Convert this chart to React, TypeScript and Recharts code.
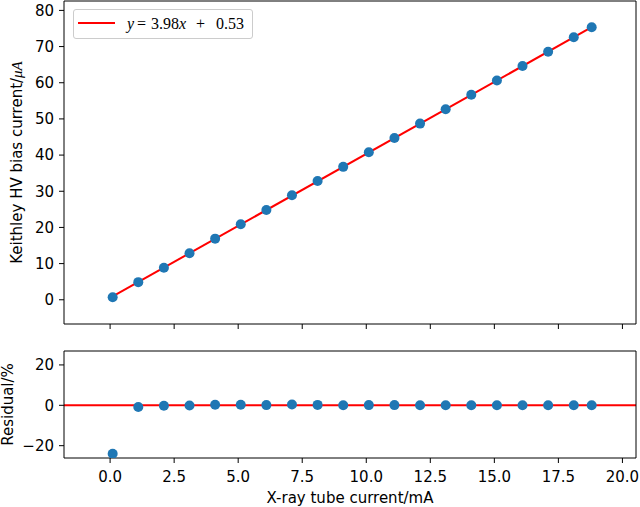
import React from 'react';
import { ComposedChart, Scatter, Line, XAxis, YAxis, ReferenceLine, Legend } from 'recharts';

const tubeCurrent = [0.1, 1.1, 2.1, 3.1, 4.1, 5.1, 6.1, 7.1, 8.1, 9.1, 10.1, 11.1, 12.1, 13.1, 14.1, 15.1, 16.1, 17.1, 18.1, 18.8];
const biasCurrent = [0.7, 4.87, 8.87, 12.86, 16.9, 20.89, 24.83, 28.9, 32.83, 36.75, 40.76, 44.73, 48.7, 52.68, 56.66, 60.64, 64.61, 68.59, 72.57, 75.35];
const residualPct = [-24.0, -0.8, -0.2, -0.1, 0.3, 0.3, 0.1, 0.4, 0.2, 0.0, 0.1, 0.1, 0.0, 0.0, 0.0, 0.0, 0.0, 0.0, 0.0, 0.0];
const fitX = [0.1, 18.8];
const fitY = [0.93, 75.35];
const xTicks = [0, 2.5, 5, 7.5, 10, 12.5, 15, 17.5, 20];
const topYTicks = [0, 10, 20, 30, 40, 50, 60, 70, 80];
const residYTicks = [-20, 0, 20];

const topRows = tubeCurrent.map((x, i) => ({ x, y: biasCurrent[i] }));
const residRows = tubeCurrent.map((x, i) => ({ x, y: residualPct[i] }));
const fitRows = fitX.map((x, i) => ({ x, y: fitY[i] }));

const X_DOMAIN: [number, number] = [-1.8, 20.53];
const TOP_DOMAIN: [number, number] = [-6.7, 82.6];
const RES_DOMAIN: [number, number] = [-26.1, 26.9];

const BLUE = '#1f77b4';
const RED = '#ff0000';
const FONT = 'DejaVu Sans, sans-serif';
const MATH = 'Liberation Serif, DejaVu Serif, serif';
const tickStyle = { fontFamily: FONT, fontSize: 15, fill: '#000' };
const minus = (v: number) => String(v).replace('-', '\u2212');
const fmtX = (v: number) => v.toFixed(1);

const Dot = (p: any) => <circle cx={p.cx} cy={p.cy} r={5} fill={BLUE} />;

const TopYLabel = () => (
  <text transform="translate(22,162.5) rotate(-90)" textAnchor="middle" fontFamily={FONT} fontSize={15} fill="#000">
    Keithley HV bias current/
    <tspan fontFamily={MATH} fontStyle="italic">μA</tspan>
  </text>
);

const ResYLabel = () => (
  <text transform="translate(13,64.5) rotate(-90)" textAnchor="middle" fontFamily={FONT} fontSize={15} fill="#000">
    Residual/%
  </text>
);

const XLabel = () => (
  <text x={350} y={163} textAnchor="middle" fontFamily={FONT} fontSize={15} fill="#000">
    X-ray tube current/mA
  </text>
);

const FitLegend = () => (
  <div
    style={{
      width: 180,
      height: 30,
      boxSizing: 'border-box',
      border: '1px solid #cccccc',
      borderRadius: 3,
      background: 'rgba(255,255,255,0.8)',
    }}
  >
    <svg width={178} height={28} style={{ display: 'block' }}>
      <line x1={4} x2={41} y1={13} y2={13} stroke={RED} strokeWidth={2} />
      <text y={19} fontFamily={MATH} fontSize={16} fill="#000">
        <tspan x={53} fontStyle="italic">y</tspan>
        <tspan x={63}>=</tspan>
        <tspan x={77}>3.98</tspan>
        <tspan x={105} fontStyle="italic">x</tspan>
        <tspan x={122}>+</tspan>
        <tspan x={142}>0.53</tspan>
      </text>
    </svg>
  </div>
);

export default function App() {
  return (
    <div style={{ position: 'absolute', left: 0, top: 0, width: 640, height: 507, background: '#fff' }}>
      <div style={{ position: 'absolute', left: 0, top: 0 }}>
        <ComposedChart width={640} height={340} data={topRows} margin={{ top: 0, right: 3, left: 0, bottom: 0 }}>
          <XAxis
            dataKey="x"
            type="number"
            domain={X_DOMAIN}
            ticks={xTicks}
            allowDataOverflow
            height={16}
            tickSize={5}
            tickFormatter={() => ''}
            stroke="#000"
            tick={tickStyle}
          />
          <XAxis xAxisId="top" orientation="top" type="number" dataKey="x" domain={X_DOMAIN} allowDataOverflow height={1} tick={false} tickLine={false} stroke="#000" />
          <YAxis
            type="number"
            domain={TOP_DOMAIN}
            ticks={topYTicks}
            allowDataOverflow
            width={64}
            tickSize={5}
            tickMargin={5}
            stroke="#000"
            tick={tickStyle}
            tickFormatter={minus}
            label={<TopYLabel />}
          />
          <YAxis yAxisId="right" orientation="right" type="number" domain={TOP_DOMAIN} allowDataOverflow width={1} tick={false} tickLine={false} stroke="#000" />
          <Scatter dataKey="y" shape={Dot} isAnimationActive={false} />
          <Line data={fitRows} dataKey="y" stroke={RED} strokeWidth={2} dot={false} activeDot={false} isAnimationActive={false} />
          <Legend
            layout="horizontal"
            verticalAlign="middle"
            align="center"
            content={() => <FitLegend />}
            wrapperStyle={{ position: 'absolute', left: 73, top: 9, width: 180, height: 30 }}
          />
        </ComposedChart>
      </div>
      <div style={{ position: 'absolute', left: 0, top: 340 }}>
        <ComposedChart width={640} height={167} data={residRows} margin={{ top: 10, right: 3, left: 0, bottom: 0 }}>
          <XAxis
            dataKey="x"
            type="number"
            domain={X_DOMAIN}
            ticks={xTicks}
            allowDataOverflow
            height={49}
            tickSize={5}
            tickMargin={8}
            stroke="#000"
            tick={tickStyle}
            tickFormatter={fmtX}
            label={<XLabel />}
          />
          <XAxis xAxisId="top" orientation="top" type="number" dataKey="x" domain={X_DOMAIN} allowDataOverflow height={1} tick={false} tickLine={false} stroke="#000" />
          <YAxis
            type="number"
            domain={RES_DOMAIN}
            ticks={residYTicks}
            allowDataOverflow
            width={64}
            tickSize={5}
            tickMargin={5}
            stroke="#000"
            tick={tickStyle}
            tickFormatter={minus}
            label={<ResYLabel />}
          />
          <YAxis yAxisId="right" orientation="right" type="number" domain={RES_DOMAIN} allowDataOverflow width={1} tick={false} tickLine={false} stroke="#000" />
          <Scatter dataKey="y" shape={Dot} isAnimationActive={false} />
          <ReferenceLine y={0} stroke={RED} strokeWidth={2} ifOverflow="visible" />
        </ComposedChart>
      </div>
    </div>
  );
}
